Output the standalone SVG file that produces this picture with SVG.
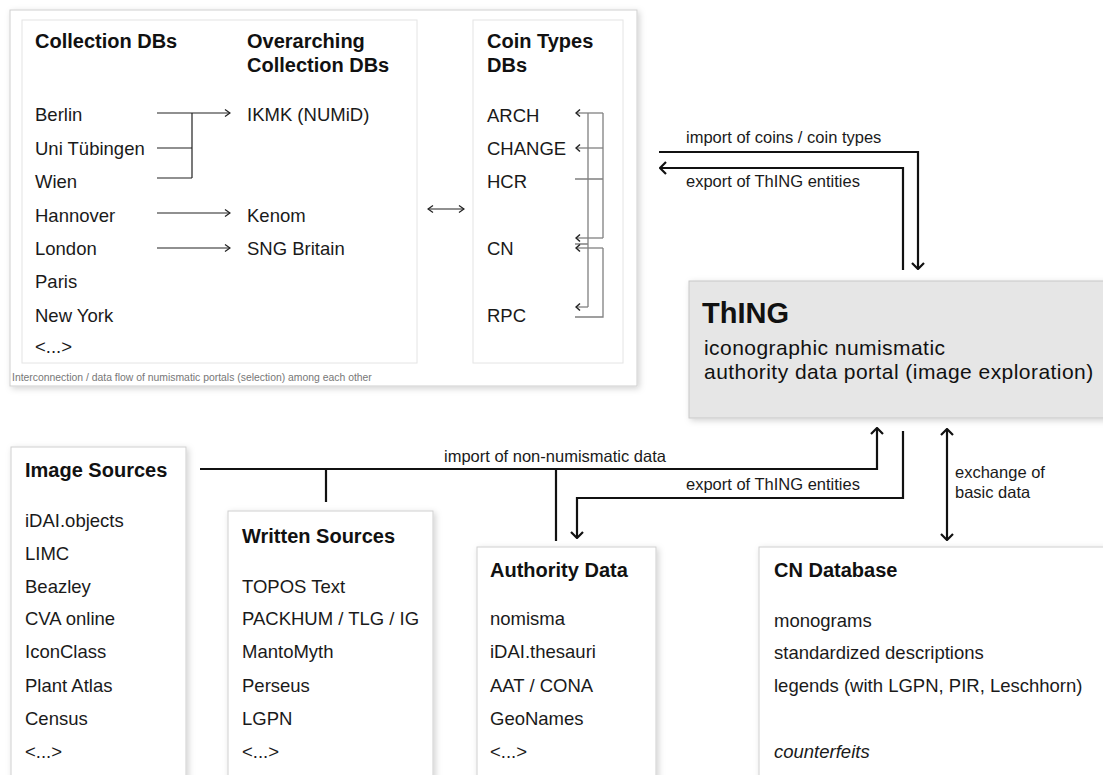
<svg xmlns="http://www.w3.org/2000/svg" width="1103" height="775" viewBox="0 0 1103 775">
<defs>
<style>
text{font-family:"Liberation Sans",Arial,Helvetica,sans-serif;fill:#1a1a1a}
.h{font-size:20px;font-weight:bold;fill:#111}
.i{font-size:18.5px}
.l{font-size:16.5px}
.cap{font-size:10.4px;fill:#777}
.sub{font-size:21px;letter-spacing:0.45px;fill:#111}
.box{fill:#fff;stroke:#cfcfcf;stroke-width:1}
.inner{fill:#fff;stroke:#e4e4e4;stroke-width:1}
.thin{fill:none;stroke:#222;stroke-width:1.2}
.gray{fill:none;stroke:#808080;stroke-width:1.3}
.thick{fill:none;stroke:#111;stroke-width:2.2}
</style>
<filter id="sh" x="-10%" y="-10%" width="130%" height="130%">
<feDropShadow dx="2" dy="2" stdDeviation="3" flood-color="#000" flood-opacity="0.18"/>
</filter>
<marker id="as" viewBox="0 0 10 10" refX="9" refY="5" markerWidth="10" markerHeight="10" markerUnits="userSpaceOnUse" orient="auto-start-reverse">
<path d="M4,1.5 L9,5 L4,8.5" fill="none" stroke="#222" stroke-width="1.3"/>
</marker>
<marker id="ag" viewBox="0 0 10 10" refX="9" refY="5" markerWidth="10" markerHeight="10" markerUnits="userSpaceOnUse" orient="auto-start-reverse">
<path d="M5,1.5 L9,5 L5,8.5" fill="none" stroke="#222" stroke-width="1.5"/>
</marker>
<marker id="ab" viewBox="0 0 14 14" refX="13" refY="7" markerWidth="14" markerHeight="14" markerUnits="userSpaceOnUse" orient="auto-start-reverse">
<path d="M7,1 L13,7 L7,13" fill="none" stroke="#111" stroke-width="2.2"/>
</marker>
</defs>
<rect width="1103" height="775" fill="#fff"/>

<g id="portals-panel">
<rect x="10" y="10" width="627" height="376" class="box" filter="url(#sh)"/>
<text x="12" y="381" class="cap">Interconnection / data flow of numismatic portals (selection) among each other</text>
</g>

<g id="collection-dbs">
<rect x="22" y="20" width="395" height="343" class="inner"/>
<text x="35" y="48" class="h">Collection DBs</text>
<text x="35" y="121" class="i">Berlin</text>
<text x="35" y="155" class="i">Uni Tübingen</text>
<text x="35" y="188" class="i">Wien</text>
<text x="35" y="222" class="i">Hannover</text>
<text x="35" y="255" class="i">London</text>
<text x="35" y="288" class="i">Paris</text>
<text x="35" y="322" class="i">New York</text>
<text x="35" y="353" class="i">&lt;...&gt;</text>
</g>

<g id="overarching-dbs">
<text x="247" y="48" class="h">Overarching</text>
<text x="247" y="72" class="h">Collection DBs</text>
<text x="247" y="121" class="i">IKMK (NUMiD)</text>
<text x="247" y="222" class="i">Kenom</text>
<text x="247" y="255" class="i">SNG Britain</text>
</g>

<g id="coin-types-dbs">
<rect x="473" y="20" width="150" height="343" class="inner"/>
<text x="487" y="48" class="h">Coin Types</text>
<text x="487" y="72" class="h">DBs</text>
<text x="487" y="122" class="i">ARCH</text>
<text x="487" y="155" class="i">CHANGE</text>
<text x="487" y="188" class="i">HCR</text>
<text x="487" y="255" class="i">CN</text>
<text x="487" y="322" class="i">RPC</text>
</g>

<g id="thing">
<rect x="689" y="281" width="430" height="137" fill="#e6e6e6" stroke="#c8c8c8" filter="url(#sh)"/>
<text x="702" y="323" font-size="29" font-weight="bold" style="fill:#111">ThING</text>
<text x="704" y="355" class="sub">iconographic numismatic</text>
<text x="704" y="379" class="sub">authority data portal (image exploration)</text>
</g>

<g id="image-sources">
<rect x="11" y="447" width="175" height="340" class="box" filter="url(#sh)"/>
<text x="25" y="477" class="h">Image Sources</text>
<text x="25" y="527" class="i">iDAI.objects</text>
<text x="25" y="560" class="i">LIMC</text>
<text x="25" y="593" class="i">Beazley</text>
<text x="25" y="625" class="i">CVA online</text>
<text x="25" y="658" class="i">IconClass</text>
<text x="25" y="692" class="i">Plant Atlas</text>
<text x="25" y="725" class="i">Census</text>
<text x="25" y="758" class="i">&lt;...&gt;</text>
</g>

<g id="written-sources">
<rect x="228" y="511" width="205" height="280" class="box" filter="url(#sh)"/>
<text x="242" y="543" class="h">Written Sources</text>
<text x="242" y="593" class="i">TOPOS Text</text>
<text x="242" y="625" class="i">PACKHUM / TLG / IG</text>
<text x="242" y="658" class="i">MantoMyth</text>
<text x="242" y="692" class="i">Perseus</text>
<text x="242" y="725" class="i">LGPN</text>
<text x="242" y="758" class="i">&lt;...&gt;</text>
</g>

<g id="authority-data">
<rect x="477" y="547" width="179" height="240" class="box" filter="url(#sh)"/>
<text x="490" y="577" class="h">Authority Data</text>
<text x="490" y="625" class="i">nomisma</text>
<text x="490" y="658" class="i">iDAI.thesauri</text>
<text x="490" y="692" class="i">AAT / CONA</text>
<text x="490" y="725" class="i">GeoNames</text>
<text x="490" y="758" class="i">&lt;...&gt;</text>
</g>

<g id="cn-database">
<rect x="759" y="547" width="360" height="240" class="box" filter="url(#sh)"/>
<text x="774" y="577" class="h">CN Database</text>
<text x="774" y="627" class="i">monograms</text>
<text x="774" y="659" class="i">standardized descriptions</text>
<text x="774" y="692" class="i">legends (with LGPN, PIR, Leschhorn)</text>
<text x="774" y="758" class="i" font-style="italic">counterfeits</text>
</g>

<g id="connectors">
<path d="M157,113 H230" class="thin" marker-end="url(#as)"/>
<path d="M157,148 H192 M157,178 H192 M192,113 V178" class="thin"/>
<path d="M157,213 H230" class="thin" marker-end="url(#as)"/>
<path d="M157,248 H230" class="thin" marker-end="url(#as)"/>
<path d="M428,209 H464" class="thin" marker-start="url(#as)" marker-end="url(#as)"/>
<path d="M603,113 V238 M588,113 V307 M575,179 H603 M575,244 H588 M603,248 V317 H575" class="gray"/>
<path d="M603,113 H576" class="gray" marker-end="url(#ag)"/>
<path d="M603,148 H576" class="gray" marker-end="url(#ag)"/>
<path d="M603,238 H576" class="gray" marker-end="url(#ag)"/>
<path d="M603,248 H576" class="gray" marker-end="url(#ag)"/>
<path d="M588,307 H576" class="gray" marker-end="url(#ag)"/>
<path d="M659,152 H918 V269" class="thick" marker-end="url(#ab)"/>
<path d="M903,270 V168 H660" class="thick" marker-end="url(#ab)"/>
<text x="686" y="143" class="l">import of coins / coin types</text>
<text x="686" y="187" class="l">export of ThING entities</text>
<path d="M200,469 H877 V428" class="thick" marker-end="url(#ab)"/>
<path d="M326,469 V502 M556,469 V541" class="thick"/>
<text x="444" y="462" class="l">import of non-numismatic data</text>
<path d="M903,431 V498 H577 V538" class="thick" marker-end="url(#ab)"/>
<text x="686" y="490" class="l">export of ThING entities</text>
<path d="M947,429 V540" class="thick" marker-start="url(#ab)" marker-end="url(#ab)"/>
<text x="955" y="478" class="l">exchange of</text>
<text x="955" y="498" class="l">basic data</text>
</g>
</svg>
